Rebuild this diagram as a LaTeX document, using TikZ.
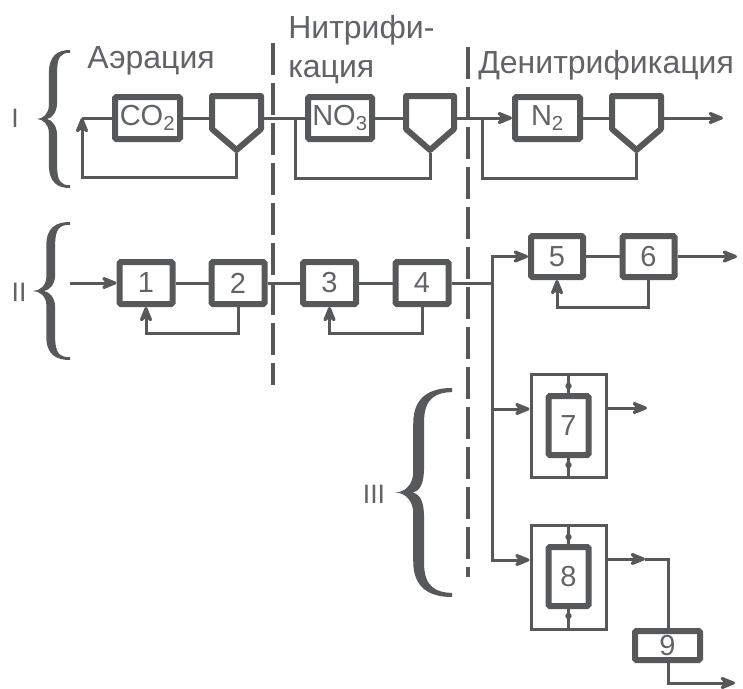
\documentclass[tikz,border=0pt]{standalone}
\usepackage{fontspec}
\setmainfont{Liberation Sans}
\usetikzlibrary{arrows.meta,calc}
\definecolor{ink}{RGB}{87,88,90}
\definecolor{txt}{RGB}{98,99,102}
% curly brace as a filled outline: tip x, top y, width, height, spine x, spine thickness
\newcommand\bracefig[6]{%
  \begin{scope}[shift={(#1,#2)},xscale=#3,yscale=#4]
    \fill[ink] (1,0) .. controls (0.62,0) and (#5,0.04) .. (#5,0.17)
      -- (#5,0.40) .. controls (#5,0.46) and (0.18,0.5) .. (0,0.5)
      .. controls (0.18,0.5) and (#5,0.54) .. (#5,0.60)
      -- (#5,0.83) .. controls (#5,0.96) and (0.62,1) .. (1,1)
      -- (1,0.98) .. controls (0.72,0.98) and (#5+#6,0.95) .. (#5+#6,0.84)
      -- (#5+#6,0.62) .. controls (#5+#6,0.55) and (0.45,0.505) .. (0.3,0.5)
      .. controls (0.45,0.495) and (#5+#6,0.45) .. (#5+#6,0.38)
      -- (#5+#6,0.16) .. controls (#5+#6,0.05) and (0.72,0.02) .. (1,0.02) -- cycle;
  \end{scope}}
\begin{document}
\begin{tikzpicture}[x=0.75pt,y=-0.75pt,
  flow/.style={draw=ink,line width=2.25pt},
  arr/.style={flow,-{Stealth[length=15pt,width=12pt,inset=5pt,round]}},
  unit/.style={draw=ink,line width=4.5pt,rounded corners=1pt,fill=white,inner sep=0pt,
    text=txt,font=\fontsize{21.75}{22}\selectfont},
  shell/.style={draw=ink,line width=2.25pt,inner sep=0pt,minimum width=56.25pt},
  settler/.style={draw=ink,line width=4.5pt,line join=round},
  stage/.style={text=txt,inner sep=0pt,font=\fontsize{24}{26}\selectfont},
  roman/.style={text=txt,inner sep=0pt,font=\fontsize{20}{22}\selectfont},
  sep/.style={draw=ink,line width=3pt,dash pattern=on 24pt off 6pt}]
\useasboundingbox (0,0) rectangle (743,689);

% stage headings
\node[stage,anchor=base west] (hA) at (87,68) {Аэрация};
\node[stage,anchor=base west] (hN1) at (288,38) {Нитрифи-};
\node[stage,anchor=base west] (hN2) at (288,77) {кация};
\node[stage,anchor=base west] (hD) at (478,73) {Денитрификация};

% stage separators
\draw[sep] (273,43) -- (273,385);
\draw[sep] (468,47) -- (468,577);

% braces and scheme numbers
\bracefig{37}{50}{33}{138}{0.36}{0.25}
\bracefig{33}{222}{37}{138}{0.36}{0.24}
\bracefig{395}{388}{57}{209}{0.32}{0.19}
\node[roman] (rI) at (15,118) {I};
\node[roman] (rII) at (19,292) {II};
\node[roman] (rIII) at (374,494) {III};

% ---- scheme I ----
\node[unit,minimum width=48.75pt,minimum height=31.5pt] (co2) at (147.5,118) {CO\textsubscript{2}};
\node[unit,minimum width=48pt,minimum height=31.5pt] (no3) at (340,118) {NO\textsubscript{3}};
\node[unit,minimum width=48.75pt,minimum height=31.5pt] (n2) at (547.5,118) {N\textsubscript{2}};

\draw[settler] (212,96) -- (261,96) -- (261,129) -- (236.5,150) -- (212,129) -- cycle;
\draw[settler] (406,96) -- (454,96) -- (454,129) -- (430,150) -- (406,129) -- cycle;
\draw[settler] (612,96) -- (661,96) -- (661,129) -- (636.5,150) -- (612,129) -- cycle;
\coordinate (t1w) at (209,118); \coordinate (t1e) at (264,118); \coordinate (t1b) at (236.5,153);
\coordinate (t2w) at (403,118); \coordinate (t2e) at (457,118); \coordinate (t2b) at (430,153);
\coordinate (t3w) at (609,118); \coordinate (t3e) at (664,118); \coordinate (t3b) at (636.5,153);

\coordinate (r1) at (82,118); \coordinate (q1) at (82,177);
\coordinate (j2) at (295,118); \coordinate (q2) at (295,178);
\coordinate (j3) at (482,118); \coordinate (q3) at (482,178);
\coordinate (out1) at (723,118);

\draw[flow] (r1) -- (co2.west);
\draw[flow] (co2.east) -- (t1w);
\draw[arr] (t1b) |- (q1) -- (r1);
\draw[flow] (t1e) -- (no3.west);
\draw[flow] (no3.east) -- (t2w);
\draw[flow] (j2) -- (q2) -| (t2b);
\draw[arr] (t2e) -- (n2.west);
\draw[flow] (n2.east) -- (t3w);
\draw[flow] (j3) -- (q3) -| (t3b);
\draw[arr] (t3e) -- (out1);

% ---- scheme II ----
\node[unit,minimum width=39.75pt,minimum height=31.5pt] (b1) at (146,283) {1};
\node[unit,minimum width=39.75pt,minimum height=31.5pt] (b2) at (238,283) {2};
\node[unit,minimum width=39.75pt,minimum height=31.5pt] (b3) at (329.5,283) {3};
\node[unit,minimum width=39.75pt,minimum height=31.5pt] (b4) at (422,283) {4};
\node[unit,minimum width=39pt,minimum height=30.75pt] (b5) at (557,256.5) {5};
\node[unit,minimum width=39pt,minimum height=30.75pt] (b6) at (648.5,256.5) {6};

\coordinate (in2) at (70,283);
\coordinate (j4) at (492,283);
\coordinate (out2) at (737,256.5);

\draw[arr] (in2) -- (b1);
\draw[flow] (b1) -- (b2);
\draw[flow] (b2) -- (b3);
\draw[flow] (b3) -- (b4);
\draw[flow] (b4) -- (j4);
\draw[arr] (b2.south) |- ($(b1.south)+(0,26)$) -- (b1.south);
\draw[arr] (b4.south) |- ($(b3.south)+(0,26)$) -- (b3.south);
\draw[arr] (j4) |- (b5.west);
\draw[flow] (b5) -- (b6);
\draw[arr] (b6) -- (out2);
\draw[arr] (b6.south) |- ($(b5.south)+(0,27)$) -- (b5.south);

% ---- scheme III ----
\node[shell,minimum height=77.25pt] (o7) at (568.5,425.5) {};
\node[shell,minimum height=78pt] (o8) at (568.5,577.5) {};
\node[unit,minimum width=30pt,minimum height=44.25pt] (i7) at (568.5,425.5) {7};
\node[unit,minimum width=30pt,minimum height=44.25pt] (i8) at (568.5,576.5) {8};
\node[unit,minimum width=48.75pt,minimum height=21.75pt] (b9) at (667.5,645.5) {9};

\coordinate (k7) at (492,409);
\coordinate (k8) at (492,560);
\coordinate (e7) at (647,408);
\coordinate (m8) at (645,559);
\coordinate (e8) at (668,559);
\coordinate (e9) at (735,683);

\draw[arr] (k7) -- (k7 -| o7.west);
\draw[arr] (j4) |- (k8 -| o8.west);
\draw[arr] (e7 -| o7.east) -- (e7);
\draw[flow] (o7.north) -- (i7.north);
\draw[flow] (o7.south) -- (i7.south);
\draw[flow] (o8.north) -- (i8.north);
\draw[flow] (o8.south) -- (i8.south);
\fill[ink] ($(i7.north)+(0,-7)$) circle (2.4pt);
\fill[ink] ($(i7.south)+(0,7)$) circle (2.4pt);
\fill[ink] ($(i8.north)+(0,-7)$) circle (2.4pt);
\fill[ink] ($(i8.south)+(0,7)$) circle (2.4pt);

\draw[arr] (m8 -| o8.east) -- (m8);
\draw[flow] (m8) -- (e8) -- (b9.north -| e8);
\draw[arr] (b9.south -| e8) |- (e9);
\end{tikzpicture}
\end{document}
